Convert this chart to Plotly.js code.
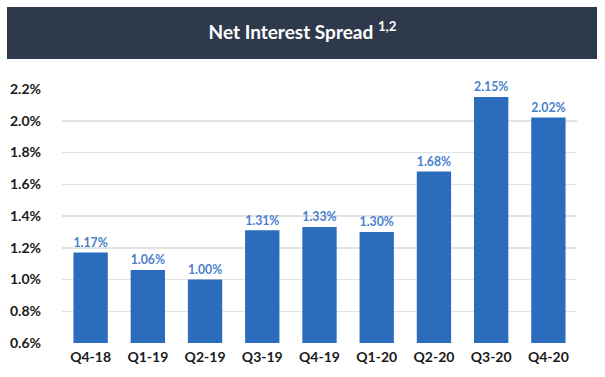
<!DOCTYPE html>
<html>
<head>
<meta charset="utf-8">
<script src="https://cdn.plot.ly/plotly-3.0.1.min.js"></script>
<style>html,body{margin:0;padding:0;background:#fff;}#chart{width:605px;height:377px;}</style>
</head>
<body>
<div id="chart"></div>
<script>
const quarters = ["Q4-18","Q1-19","Q2-19","Q3-19","Q4-19","Q1-20","Q2-20","Q3-20","Q4-20"];
const spread = [1.17, 1.06, 1.00, 1.31, 1.33, 1.30, 1.68, 2.15, 2.02];
const yTicks = [0.6, 0.8, 1.0, 1.2, 1.4, 1.6, 1.8, 2.0, 2.2];
const yTickLabels = yTicks.map(v => v.toFixed(1) + "%");

const fontFam = "Lato, 'Open Sans', 'Liberation Sans', sans-serif";

const trace = {
  type: "bar",
  x: quarters,
  y: spread,
  marker: {color: "#2b6cbc"},
  texttemplate: "<b>%{y:.2f}%</b>",
  textposition: "outside",
  cliponaxis: false,
  textfont: {family: fontFam, size: 14, color: "#4a80d0"},
  hoverinfo: "skip"
};

const layout = {
  width: 605, height: 377,
  margin: {l: 62, r: 28, t: 89, b: 34},
  paper_bgcolor: "#ffffff",
  plot_bgcolor: "#ffffff",
  bargap: 0.4,
  showlegend: false,
  title: {
    text: "<b>Net Interest Spread <sup>1,2</sup></b>",
    font: {family: fontFam, size: 19, color: "#ffffff"},
    x: 0.5, xanchor: "center",
    y: 1 - 32/377, yanchor: "middle", yref: "container"
  },
  xaxis: {
    type: "category",
    tickfont: {family: fontFam, size: 14, color: "#1a1a1a", weight: "bold"},
    showgrid: false, zeroline: false, showline: false,
    ticks: "", ticklabelstandoff: 4
  },
  yaxis: {
    range: [0.6, 2.2],
    tickmode: "array",
    tickvals: yTicks,
    ticktext: yTickLabels,
    tickfont: {family: fontFam, size: 14, color: "#1a1a1a", weight: "bold"},
    showgrid: true, gridcolor: "#e3e3e3", gridwidth: 1.5,
    zeroline: false, showline: false, ticks: "",
    ticklabelstandoff: 20
  },
  shapes: [{
    type: "rect", xref: "paper", yref: "paper",
    x0: (7-62)/515, x1: (597-62)/515,
    y0: (343-59)/254, y1: (343-7)/254,
    fillcolor: "#2e3a4b", line: {width: 0}, layer: "below"
  }]
};

Plotly.newPlot("chart", [trace], layout, {displayModeBar: false, staticPlot: true});
</script>
</body>
</html>
